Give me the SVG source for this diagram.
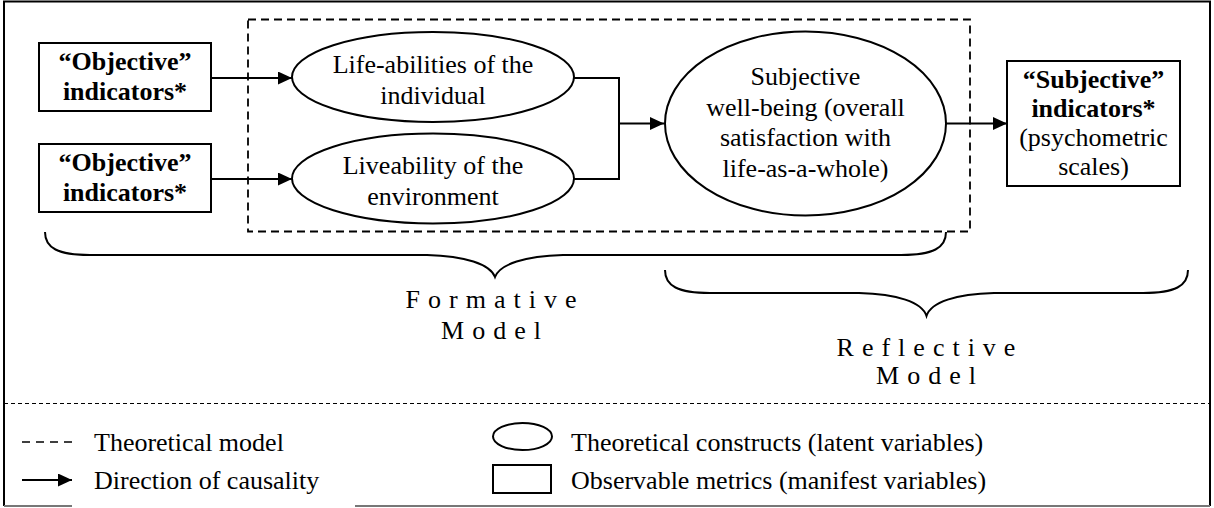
<svg xmlns="http://www.w3.org/2000/svg" width="1214" height="508" viewBox="0 0 1214 508">
<defs>
<style>
text{font-family:'Liberation Serif',Tinos,'Times New Roman',Times,'DejaVu Serif',serif;font-size:26px;fill:#000;text-anchor:middle}
.b{font-weight:bold}
.l{text-anchor:start}
.sp{letter-spacing:8px}
.sh{fill:#fff;stroke:#000;stroke-width:2}
.ln{fill:none;stroke:#000;stroke-width:2}
.br{fill:none;stroke:#000;stroke-width:2}
</style>
<marker id="ah" viewBox="0 0 14 13" refX="14" refY="6.5" markerWidth="14" markerHeight="13" markerUnits="userSpaceOnUse" orient="auto">
<path d="M0,0 L14,6.5 L0,13 Z" fill="#000"/>
</marker>
</defs>
<rect width="1214" height="508" fill="#fff"/>
<g id="frame">
<path d="M4,506 L4,1.5 L1210,1.5 L1210,506" fill="none" stroke="#000" stroke-width="2"/>
<path d="M4,506 L72,506 M355,506 L1210,506" fill="none" stroke="#777" stroke-width="2"/>
<line x1="4" y1="403.5" x2="1210" y2="403.5" stroke="#000" stroke-width="1" stroke-dasharray="4,3"/>
</g>
<g id="theoretical-model">
<rect x="248" y="19.5" width="722" height="212" fill="none" stroke="#000" stroke-width="1.8" stroke-dasharray="8,5"/>
</g>
<g id="connectors">
<line class="ln" x1="211" y1="78" x2="292" y2="78" marker-end="url(#ah)"/>
<line class="ln" x1="211" y1="179" x2="292" y2="179" marker-end="url(#ah)"/>
<path class="ln" d="M574,78 L619,78 L619,179 L574,179"/>
<line class="ln" x1="619" y1="123.5" x2="664" y2="123.5" marker-end="url(#ah)"/>
<line class="ln" x1="946" y1="123.5" x2="1007" y2="123.5" marker-end="url(#ah)"/>
</g>
<g id="obj1">
<rect class="sh" x="39" y="43" width="172" height="68"/>
<text class="b" x="125" y="70" font-family="Liberation Serif, serif">“Objective”</text>
<text class="b" x="125" y="100" font-family="Liberation Serif, serif">indicators*</text>
</g>
<g id="obj2">
<rect class="sh" x="39" y="144" width="172" height="68"/>
<text class="b" x="125" y="171">“Objective”</text>
<text class="b" x="125" y="201">indicators*</text>
</g>
<g id="life-abilities">
<ellipse class="sh" cx="433" cy="77" rx="141" ry="45"/>
<text x="433" y="73">Life-abilities of the</text>
<text x="433" y="104">individual</text>
</g>
<g id="liveability">
<ellipse class="sh" cx="433" cy="178.5" rx="141" ry="45"/>
<text x="433" y="174">Liveability of the</text>
<text x="433" y="205">environment</text>
</g>
<g id="swb">
<ellipse class="sh" cx="805.5" cy="123.5" rx="140.5" ry="92"/>
<text x="805.5" y="85">Subjective</text>
<text x="805.5" y="116">well-being (overall</text>
<text x="805.5" y="146">satisfaction with</text>
<text x="805.5" y="177">life-as-a-whole)</text>
</g>
<g id="subj">
<rect class="sh" x="1007" y="61" width="173" height="125"/>
<text class="b" x="1093.5" y="88">“Subjective”</text>
<text class="b" x="1093.5" y="117">indicators*</text>
<text x="1093.5" y="146">(psychometric</text>
<text x="1093.5" y="175">scales)</text>
</g>
<g id="formative">
<path class="br" d="M45,232 C45,248 58,255 90,255 L427,255 C465,256 490,264 495,277 C500,264 525,256 563,255 L901,255 C933,255 946,248 946,232"/>
<text class="sp" x="495" y="308">Formative</text>
<text class="sp" x="495" y="339">Model</text>
</g>
<g id="reflective">
<path class="br" d="M665,270 C665,286 678,293 710,293 L859,293 C897,294 922,302 926.5,316 C931,302 956,294 994,293 L1143,293 C1175,293 1188,286 1188,270"/>
<text class="sp" x="930" y="356">Reflective</text>
<text class="sp" x="930" y="384">Model</text>
</g>
<g id="legend">
<line x1="22" y1="442" x2="72" y2="442" stroke="#000" stroke-width="1.5" stroke-dasharray="8,6"/>
<text class="l" x="94" y="451">Theoretical model</text>
<line class="ln" x1="22" y1="480" x2="72" y2="480" marker-end="url(#ah)"/>
<text class="l" x="94" y="489">Direction of causality</text>
<ellipse class="sh" cx="522.5" cy="436.5" rx="29.5" ry="13.5"/>
<text class="l" x="571" y="451">Theoretical constructs (latent variables)</text>
<rect class="sh" x="493" y="465" width="58" height="28"/>
<text class="l" x="571" y="489">Observable metrics (manifest variables)</text>
</g>
</svg>
